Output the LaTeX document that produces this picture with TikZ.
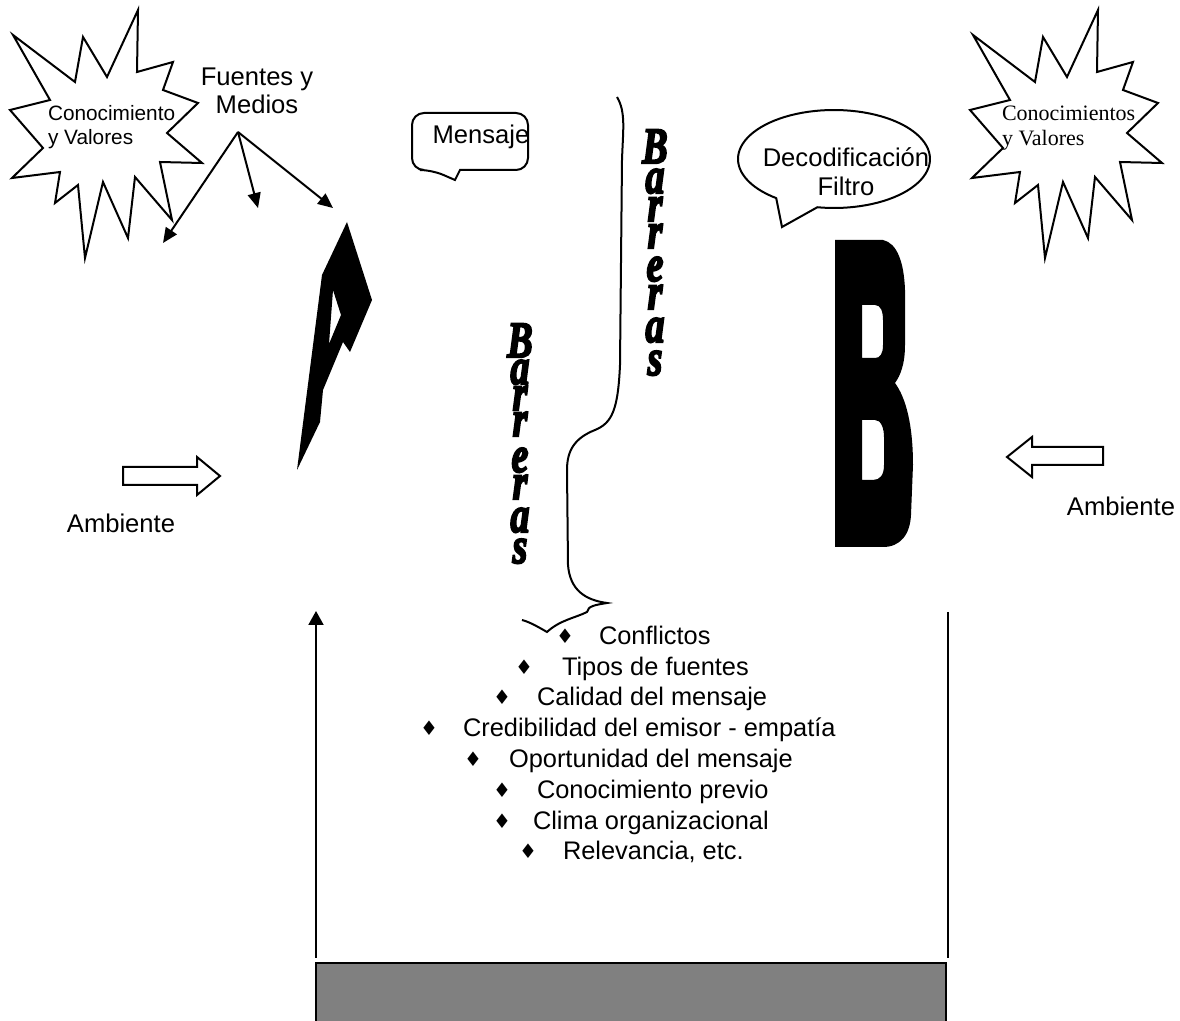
\documentclass[tikz,border=0pt]{standalone}
\usepackage{fontspec}
\setmainfont{Liberation Sans}
\newfontfamily\serifface{Liberation Serif}
\newfontfamily\barface{Liberation Serif}[BoldItalicFeatures={FakeBold=4}]
\newfontfamily\symface{DejaVu Sans}
\usetikzlibrary{arrows.meta}

\begin{document}
\begin{tikzpicture}[x=0.5pt,y=-0.5pt,line width=1pt,line join=miter,
  txt/.style={font=\fontsize{12.8}{14.5}\selectfont,inner sep=0pt,align=center},
  smalltxt/.style={font=\fontsize{10.4}{12}\selectfont,inner sep=0pt,align=left,anchor=west},
  romantxt/.style={font=\serifface\fontsize{11}{12.5}\selectfont,inner sep=0pt,align=left,anchor=west},
  barletter/.style={font=\barface\bfseries\itshape\fontsize{25.5}{25.5}\selectfont,inner sep=0pt,anchor=base,xscale=0.75},
  bullet/.style={font=\symface\fontsize{10}{10}\selectfont,inner sep=0pt},
  listtxt/.style={font=\fontsize{12.7}{14}\selectfont,inner sep=0pt,anchor=base west},
  thinarrow/.style={-{Triangle[length=7.5pt,width=6.5pt]}},
  blockarrow/.style={draw,fill=white},
  outline/.style={draw,fill=white}]

% page
\useasboundingbox (0,0) rectangle (1180,1021);
\fill[white] (0,0) rectangle (1180,1021);

% explosion shapes (sender and receiver knowledge)
\foreach \dx in {0,960}
  \draw[outline,shift={(\dx,0)}]
    (13,35) -- (75,82) -- (83,37) -- (107,77) -- (138,10) -- (137,72)
    -- (173,62) -- (163,90) -- (198,103) -- (167,133) -- (202,163)
    -- (160,162) -- (172,220) -- (135,177) -- (128,238) -- (103,182)
    -- (85,258) -- (78,185) -- (55,203) -- (60,172) -- (12,178)
    -- (43,148) -- (10,110) -- (50,100) -- cycle;
\node[smalltxt] (kvL) at (47,127) {Conocimiento\\y Valores};
\node[romantxt] (kvR) at (1001,128) {Conocimientos\\y Valores};

% sources and media
\node[txt,font=\fontsize{12.8}{14}\selectfont] (fuentes) at (257,91) {Fuentes y\\Medios};
\coordinate (fsrc) at (238,132);
\coordinate (f1) at (163,243);
\coordinate (f2) at (258,208);
\coordinate (f3) at (333,208);
\draw[thinarrow] (fsrc) -- (f1);
\draw[thinarrow] (fsrc) -- (f2);
\draw[thinarrow] (fsrc) -- (f3);

% sender glyph A
\fill[even odd rule]
  (347,222) -- (372,300) -- (350,352) -- (343,342) -- (323,390)
  -- (320,422) -- (297,470) -- (322,275) -- cycle
  (333,290) -- (341,315) -- (329,344) -- cycle;

% message callout
\draw[fill=white] (460,170) [rounded corners=6pt] -- (528,170) -- (528,113)
  -- (412,113) -- (412,170) -- (432,170) [sharp corners] -- (455,180) -- cycle;
\node[txt] (mensaje) at (481,137) {Mensaje};

% decoding callout
\draw[fill=white] plot[domain=127:460,samples=90]
  ({834+96*cos(\x)},{159+49*sin(\x)}) -- (782,227) -- cycle;
\node[txt] (deco) at (846,172) {Decodificación\\Filtro};

% receiver glyph B
\fill[even odd rule]
  (835,240) -- (883,240) .. controls (897,243) and (904,262) .. (905,290)
  -- (905,345) .. controls (905,365) and (900,376) .. (895,383)
  .. controls (906,398) and (913,425) .. (913,465)
  -- (911,515) .. controls (910,535) and (900,547) .. (883,547)
  -- (835,547) -- cycle
  (862,305) -- (875,305) .. controls (881,305) and (883,312) .. (883,320)
  -- (883,345) .. controls (883,354) and (880,358) .. (875,358) -- (862,358) -- cycle
  (862,420) -- (875,420) .. controls (881,420) and (884,428) .. (884,437)
  -- (884,465) .. controls (884,475) and (880,480) .. (873,480) -- (862,480) -- cycle;

% barrier brace
\draw (617,97) .. controls (626,112) and (623,130) .. (622,160)
  -- (620,365) .. controls (618,410) and (612,423) .. (595,430)
  .. controls (575,438) and (567,450) .. (567,470)
  -- (568,565) .. controls (570,590) and (585,600) .. (607,603)
  .. controls (595,605) and (588,606) .. (587,612)
  .. controls (575,618) and (560,620) .. (547,632)
  .. controls (540,628) and (530,622) .. (522,620);

% vertical "Barreras" words
\foreach \ch/\yy [count=\i] in {B/163,a/193,r/221,r/248,e/281,r/309,a/342,s/375}
  \node[barletter] (bu\i) at (655,\yy) {\ch};
\foreach \ch/\yy [count=\i] in {B/357,a/384,r/410,r/436,e/472,r/499,a/532,s/563}
  \node[barletter] (bl\i) at (520,\yy) {\ch};

% environment arrows
\draw[blockarrow] (123,467) -- (197,467) -- (197,457) -- (220,476)
  -- (197,495) -- (197,485) -- (123,485) -- cycle;
\node[txt] (ambL) at (121,523) {Ambiente};
\draw[blockarrow] (1103,447) -- (1032,447) -- (1032,437) -- (1007,457)
  -- (1032,477) -- (1032,465) -- (1103,465) -- cycle;
\node[txt] (ambR) at (1121,506) {Ambiente};

% list of barriers
\foreach \dx/\tx/\tt/\yy [count=\i] in {
  560/598/Conflictos/636,
  519/561/Tipos de fuentes/667,
  497/536/Calidad del mensaje/697,
  424/462/Credibilidad del emisor - empatía/728,
  468/508/Oportunidad del mensaje/759,
  497/536/Conocimiento previo/790,
  497/532/Clima organizacional/821,
  523/562/{Relevancia, etc.}/851}
{
  \node[bullet] (dot\i) at (\dx+5,\yy) {♦};
  \node[listtxt] (item\i) at (\tx,\yy+9) {\tt};
}

% feedback frame
\coordinate (upS) at (316,958);
\coordinate (upE) at (316,611);
\draw[-{Triangle[length=7pt,width=7.5pt]}] (upS) -- (upE);
\coordinate (rtT) at (948,612);
\coordinate (rtB) at (948,958);
\draw (rtT) -- (rtB);
\fill[gray] (316,963) rectangle (946,1025);
\draw (316,1025) -- (316,963) -- (946,963) -- (946,1025);
\end{tikzpicture}
\end{document}
